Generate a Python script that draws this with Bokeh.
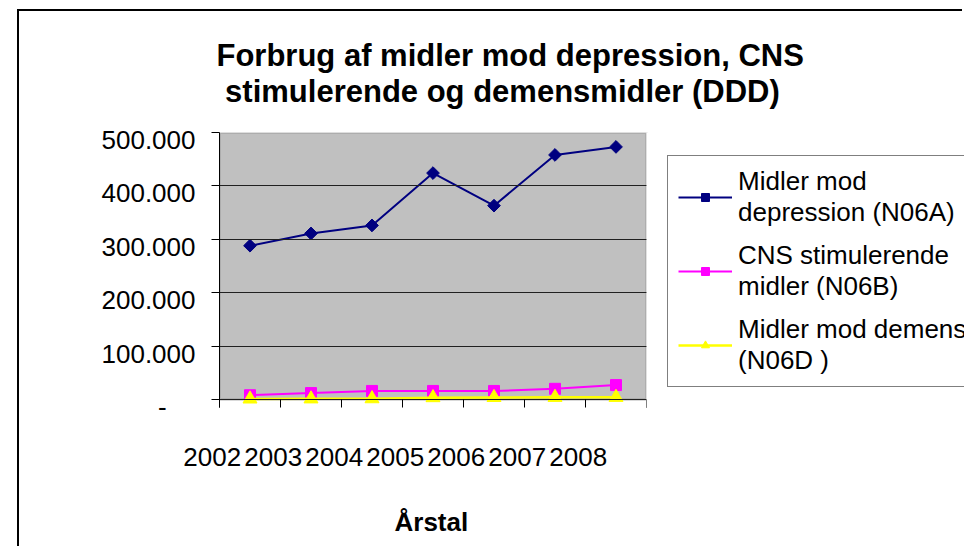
import math
from bokeh.plotting import figure
from bokeh.models import (Range1d, FixedTicker, Legend, LegendItem, Title,
                          BoxAnnotation, LinearAxis)
from bokeh.embed import file_html
from bokeh.resources import INLINE

# ---- data ----
years = ["2002", "2003", "2004", "2005", "2006", "2007", "2008"]
n06a = [288000, 311000, 326000, 424000, 363000, 458000, 473000]
n06b = [8000, 12000, 16000, 16000, 16000, 20000, 27000]
n06d = [1000, 1200, 1500, 3500, 3800, 4000, 4000]
y_ticks = [0, 100000, 200000, 300000, 400000, 500000]
y_tick_labels = ["-", "100.000", "200.000", "300.000", "400.000", "500.000"]
title_lines = ["Forbrug af midler mod depression, CNS",
               "stimulerende og demensmidler (DDD)"]
series_names = ["Midler mod\ndepression (N06A)",
                "CNS stimulerende\nmidler (N06B)",
                "Midler mod demens\n(N06D )"]
x_title = "Årstal"

FONT = "Liberation Sans"
NB = "\u00a0"
N = len(years)
xs = [i + 0.5 for i in range(N)]
YMAX = y_ticks[-1]
PLOT_W, FRAME_W, PLOT_H = 427, 745, 267
PAD_FRAC = 8 / PLOT_H        # frame extends 8px below the zero line
LBL_SHIFT = 7.5 / PLOT_H     # value labels sit 7.5px below their ticks

p = figure(width=945, height=537, output_backend="svg", toolbar_location=None,
           x_range=Range1d(0, N * FRAME_W / PLOT_W),
           y_range=Range1d(-YMAX * PAD_FRAC, YMAX),
           min_border_left=200, min_border_right=0,
           min_border_top=121, min_border_bottom=141)
p.margin = (9, 0, 0, 17)
p.styles = {"border-left": "2px solid black", "border-top": "2px solid black"}
p.background_fill_color = "white"
p.border_fill_color = "white"
p.outline_line_color = None

# plot area (grey) above the zero line
p.add_layout(BoxAnnotation(left=0, right=N, bottom=0, fill_color="#C0C0C0",
                           fill_alpha=1, line_color="#808080", line_width=3,
                           level="underlay"))

# x axis: ticks only (drawn upward from the frame bottom to the zero line)
xa = p.xaxis[0]
xa.ticker = FixedTicker(ticks=list(range(N + 1)))
xa.bounds = (0, N)
ov = {i: years[i] + NB + NB for i in range(N)}
ov[N] = ""
xa.major_label_overrides = ov
xa.major_tick_out = 0
xa.major_tick_in = 8
xa.minor_tick_line_color = None
xa.axis_line_color = None
xa.major_tick_line_color = "black"
xa.major_label_text_font = FONT
xa.major_label_text_font_size = "26px"
xa.major_label_text_color = "black"
xa.major_label_standoff = 34

# x axis title, placed under the plot area (empty first line = spacing)
p.add_layout(Title(text="\n" + x_title, align="left", offset=175, text_font=FONT,
                   text_font_size="26px", text_font_style="bold",
                   text_color="black", text_line_height=1.0, standoff=1),
             "below")

# y axis: line + ticks
ya = p.yaxis[0]
ya.ticker = FixedTicker(ticks=y_ticks)
ya.major_label_overrides = {t: "" for t in y_ticks}
ya.major_label_text_font_size = "0px"
ya.major_label_standoff = 0
ya.major_tick_out = 8
ya.major_tick_in = 0
ya.minor_tick_line_color = None
ya.axis_line_color = "black"
ya.major_tick_line_color = "black"

# y labels axis (labels only, slightly lower as in the original)
p.extra_y_ranges = {"lbl": Range1d(-YMAX * PAD_FRAC + YMAX * LBL_SHIFT,
                                   YMAX + YMAX * LBL_SHIFT)}
yov = {}
for t, lab in zip(y_ticks, y_tick_labels):
    yov[t] = lab + NB * 4 if lab == "-" else lab
yl = LinearAxis(y_range_name="lbl", ticker=FixedTicker(ticks=y_ticks),
                major_label_overrides=yov, axis_line_color=None,
                major_tick_line_color=None, minor_tick_line_color=None,
                major_tick_out=0, major_tick_in=0, major_label_standoff=16,
                major_label_text_font=FONT, major_label_text_font_size="26px",
                major_label_text_color="black")
p.add_layout(yl, "left")

p.xgrid.visible = False
p.ygrid.ticker = FixedTicker(ticks=y_ticks[:-1])
p.ygrid.grid_line_color = "#202020"
p.ygrid.grid_line_width = 1
p.ygrid.level = "glyph"

# white area right of the plot area (hides grid lines there)
p.add_layout(BoxAnnotation(left=N, fill_color="white", fill_alpha=1,
                           line_color=None, level="annotation"))

# series
r1l = p.line(xs, n06a, line_color="#000080", line_width=2)
r1m = p.scatter(xs, n06a, marker="square", angle=math.pi / 4, size=9,
                fill_color="#000080", line_color="#000080")
r2l = p.line(xs, n06b, line_color="#FF00FF", line_width=2)
r2m = p.scatter(xs, n06b, marker="square", size=11,
                fill_color="#FF00FF", line_color="#FF00FF")
r3l = p.line(xs, n06d, line_color="#FFFF00", line_width=2.5)
r3m = p.scatter(xs, n06d, marker="triangle", size=14,
                fill_color="#FFFF00", line_color="#FFFF00")

legend = Legend(items=[LegendItem(label=series_names[0], renderers=[r1l, r1m]),
                       LegendItem(label=series_names[1], renderers=[r2l, r2m]),
                       LegendItem(label=series_names[2], renderers=[r3l, r3m])],
                location=(448, 20), margin=0, glyph_width=54, glyph_height=20,
                label_standoff=6, padding=10, spacing=12,
                label_text_font=FONT, label_text_font_size="26px",
                label_text_color="black", label_text_line_height=1.27,
                border_line_color="black", border_line_width=1,
                background_fill_color="white", background_fill_alpha=1)
p.add_layout(legend, "center")

# title (two lines)
p.title.text = title_lines[0] + "\n" + NB + title_lines[1]
p.title.align = "left"
p.title.offset = -3
p.title.text_font = FONT
p.title.text_font_size = "31px"
p.title.text_font_style = "bold"
p.title.text_color = "black"
p.title.text_line_height = 1.04
p.title.standoff = 47

open("out.html", "w").write(file_html(p, INLINE))
